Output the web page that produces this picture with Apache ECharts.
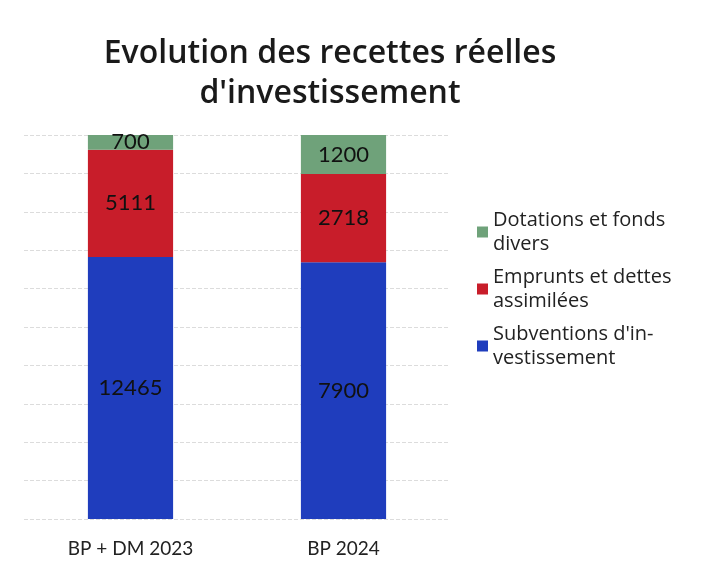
<!DOCTYPE html>
<html>
<head>
<meta charset="utf-8">
<script src="https://cdn.jsdelivr.net/npm/echarts@6/dist/echarts.min.js"></script>
<style>
  html, body { margin: 0; padding: 0; background: #fff; }
  #main { width: 711px; height: 564px; }
</style>
</head>
<body>
<div id="main"></div>
<script>
// categories et valeurs (k€)
var categories = ['BP + DM 2023', 'BP 2024'];
var subventions = [12465, 7900];
var emprunts = [5111, 2718];
var dotations = [700, 1200];
var yTicks = [0, 10, 20, 30, 40, 50, 60, 70, 80, 90, 100];

var FONT = 'Lato, "Open Sans", sans-serif';
var FONT2 = '"Open Sans", Lato, sans-serif';

// barres empilées à 100 %
var totals = categories.map(function (c, i) {
  return subventions[i] + emprunts[i] + dotations[i];
});
function pct(arr) {
  return arr.map(function (v, i) { return v / totals[i] * 100; });
}

function makeSeries(name, raw, color) {
  return {
    name: name,
    type: 'bar',
    stack: 'total',
    barWidth: '40%',
    data: pct(raw),
    itemStyle: { color: color },
    label: {
      show: true,
      position: 'inside',
      color: '#111',
      fontFamily: FONT,
      fontSize: 22,
      formatter: function (p) { return raw[p.dataIndex]; }
    }
  };
}

var myChart = echarts.init(document.getElementById('main'));
myChart.setOption({
  animation: false,
  title: {
    text: "Evolution des recettes réelles\nd'investissement",
    left: 325,
    textAlign: 'center',
    top: 29,
    textStyle: {
      fontFamily: FONT2,
      fontWeight: 600,
      fontSize: 32,
      lineHeight: 40,
      color: '#1a1a1a'
    }
  },
  legend: {
    orient: 'vertical',
    left: 472,
    top: 203,
    itemWidth: 11,
    itemHeight: 11,
    itemGap: 9,
    icon: 'rect',
    data: ['Dotations et fonds\ndivers', 'Emprunts et dettes\nassimilées', "Subventions d'in-\nvestissement"],
    textStyle: {
      fontFamily: FONT2,
      fontSize: 20,
      lineHeight: 24,
      color: '#222'
    }
  },
  grid: { left: 24, right: 261, top: 135, bottom: 45 },
  xAxis: {
    type: 'category',
    data: categories,
    axisLine: { show: false },
    axisTick: { show: false },
    axisLabel: {
      fontFamily: FONT,
      fontSize: 19,
      color: '#222',
      margin: 20
    }
  },
  yAxis: {
    type: 'value',
    min: yTicks[0],
    max: yTicks[yTicks.length - 1],
    interval: yTicks[1] - yTicks[0],
    axisLabel: { show: false },
    axisLine: { show: false },
    axisTick: { show: false },
    splitLine: { lineStyle: { color: '#dcdcdc', type: 'dashed' } }
  },
  series: [
    makeSeries("Subventions d'in-\nvestissement", subventions, '#1f3dbd'),
    makeSeries('Emprunts et dettes\nassimilées', emprunts, '#c81d2a'),
    makeSeries('Dotations et fonds\ndivers', dotations, '#6fa27a')
  ]
});
</script>
</body>
</html>
